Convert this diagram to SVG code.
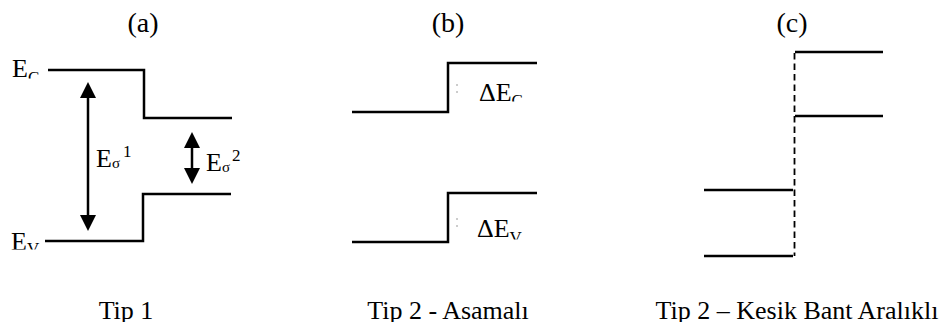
<svg xmlns="http://www.w3.org/2000/svg" width="949" height="331" viewBox="0 0 949 331">
<style>
text{font-family:"Liberation Serif","Times New Roman",serif;fill:#000;font-size:26px}
.mid{text-anchor:middle}
.ttl{font-size:28px}
.sub{font-size:17px}
.sig{font-size:15px}
.lvl{fill:none;stroke:#000;stroke-width:2.5}
.dash{fill:none;stroke:#000;stroke-width:1.8;stroke-dasharray:6.5 4}
.arr{fill:none;stroke:#000;stroke-width:2.5;marker-start:url(#ah);marker-end:url(#ah)}
.faint{fill:none;stroke:#9a9a9a;stroke-width:1;stroke-dasharray:2 5}
</style>
<defs>
<marker id="ah" viewBox="0 0 16 16" markerUnits="userSpaceOnUse" markerWidth="16" markerHeight="16" refX="0" refY="8" orient="auto-start-reverse">
<path d="M0,0 L16,8 L0,16 z" fill="#000"/>
</marker>
<clipPath id="clipBottom"><rect x="0" y="0" width="949" height="322"/></clipPath>
<clipPath id="clipEC"><rect x="0" y="0" width="60" height="78.5"/></clipPath>
<clipPath id="clipEV"><rect x="0" y="200" width="60" height="49.5"/></clipPath>
<clipPath id="clipDEC"><rect x="460" y="60" width="80" height="41.5"/></clipPath>
<clipPath id="clipDEV"><rect x="460" y="200" width="80" height="39.5"/></clipPath>
</defs>

<g id="titles">
<text class="mid ttl" x="143" y="32">(a)</text>
<text class="mid ttl" x="448" y="32">(b)</text>
<text class="mid ttl" x="792" y="32">(c)</text>
</g>

<g id="panel-a">
<g id="a-conduction">
<path class="lvl" d="M48,70 H144 V118 H232"/>
<text x="12" y="77" clip-path="url(#clipEC)">E<tspan class="sub" dy="6">C</tspan></text>
</g>
<g id="a-valence">
<path class="lvl" d="M45,241 H143 V194 H231"/>
<text x="11" y="250" clip-path="url(#clipEV)">E<tspan class="sub" dy="4">V</tspan></text>
</g>
<g id="a-gap1-label">
<text x="96" y="167">E<tspan class="sig" dy="1">σ</tspan><tspan class="sub" dx="3" dy="-11">1</tspan></text>
</g>
<g id="a-gap2-label">
<text x="206" y="171">E<tspan class="sig" dy="1">σ</tspan><tspan class="sub" dx="2" dy="-11">2</tspan></text>
</g>
</g>

<g id="panel-b">
<g id="b-conduction">
<path class="lvl" d="M352,112 H448 V63 H537"/>
<line class="faint" x1="457" y1="84" x2="457" y2="98"/>
<text x="479" y="101" clip-path="url(#clipDEC)">ΔE<tspan class="sub" dy="5">C</tspan></text>
</g>
<g id="b-valence">
<path class="lvl" d="M352,242 H448 V193 H537"/>
<line class="faint" x1="457" y1="218" x2="457" y2="232"/>
<text x="477" y="237" clip-path="url(#clipDEV)">ΔE<tspan class="sub" dy="6">V</tspan></text>
</g>
</g>

<g id="panel-c">
<g id="c-right-conduction"><path class="lvl" d="M795,52 H883"/></g>
<g id="c-right-valence"><path class="lvl" d="M795,116 H883"/></g>
<g id="c-left-conduction"><path class="lvl" d="M704,190 H793"/></g>
<g id="c-left-valence"><path class="lvl" d="M704,256 H793"/></g>
<g id="c-interface"><path class="dash" d="M794.5,53 V256"/></g>
</g>

<g id="connectors">
<line class="arr" x1="88" y1="98" x2="88" y2="215"/>
<line class="arr" x1="192" y1="148" x2="192" y2="168"/>
</g>

<g id="captions" clip-path="url(#clipBottom)">
<text class="mid" x="126" y="319">Tip 1</text>
<text class="mid" x="448" y="319">Tip 2 - Asamalı</text>
<text class="mid" x="797" y="319">Tip 2 – Kesik Bant Aralıklı</text>
</g>
</svg>
